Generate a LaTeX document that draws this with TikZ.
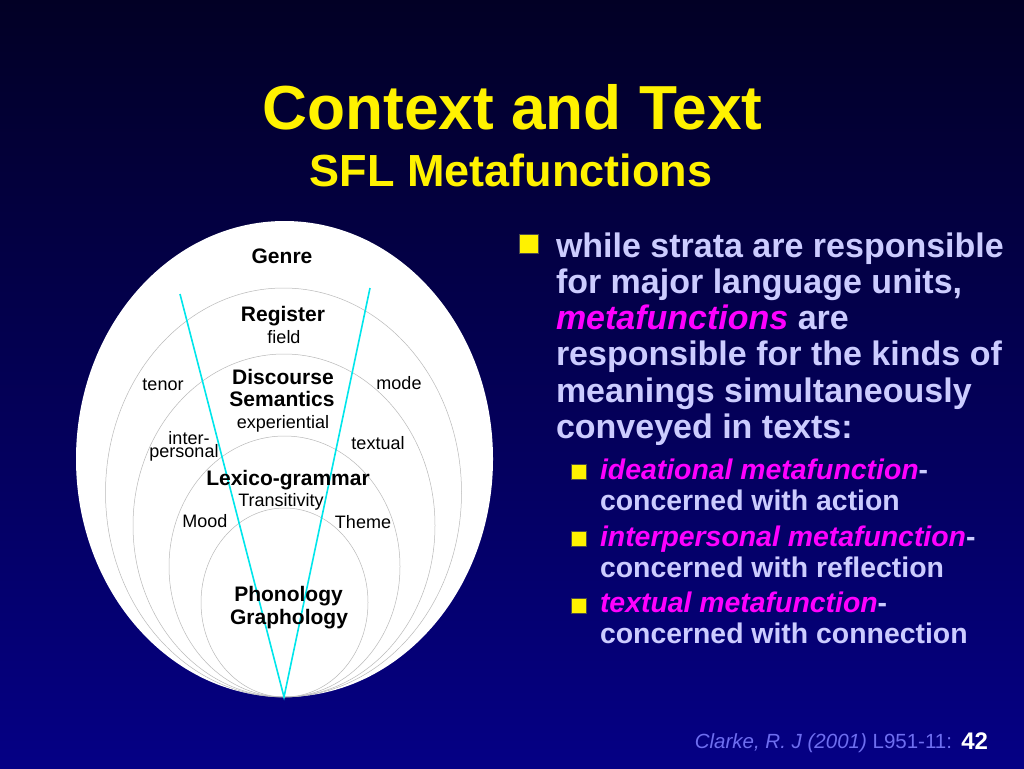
\documentclass[tikz,border=0pt]{standalone}
\usepackage{fontspec}
\setmainfont{Liberation Sans}
\usepackage{tikz}
\usetikzlibrary{positioning}
\definecolor{bgtop}{RGB}{2,0,37}
\definecolor{bgbot}{RGB}{5,0,133}
\definecolor{lav}{RGB}{204,204,255}
\definecolor{mfmag}{RGB}{255,0,255}
\definecolor{refblue}{RGB}{110,110,240}
\definecolor{wedgecyan}{RGB}{0,230,235}
\newcommand{\mfun}[1]{\textcolor{mfmag}{\itshape #1}}

\begin{document}
\begin{tikzpicture}[x=1pt, y=-1pt,
  every node/.style={inner sep=0pt, outer sep=0pt},
  ring/.style={draw=gray!55, line width=0.5pt},
  wedge/.style={draw=wedgecyan, line width=1.6pt},
  stratum/.style={anchor=base, font=\fontsize{21}{21}\selectfont\bfseries},
  fn/.style={anchor=base, font=\fontsize{18}{18}\selectfont},
  bulbox/.style={fill=yellow, draw=black!70, line width=0.4pt},
  maintxt/.style={anchor=base west, align=left, text=lav, font=\fontsize{34}{36.3}\selectfont\bfseries},
  subtxt/.style={anchor=base west, align=left, text=lav, font=\fontsize{28.4}{31}\selectfont\bfseries}]
\useasboundingbox (0,0) rectangle (1024,768);
\shade[top color=bgtop, bottom color=bgbot] (0,0) rectangle (1024,768);

% title
\node[anchor=base, text=yellow, font=\fontsize{62.2}{62}\selectfont\bfseries] (title) at (512.5,129.5) {Context and Text};
\node[anchor=base, text=yellow, font=\fontsize{45}{45}\selectfont\bfseries] (subtitle) at (511,186.5) {SFL Metafunctions};

% strata
\fill[white] (284.5,459) ellipse [x radius=208.5, y radius=238];
\draw[ring] (283.5,492.5) ellipse [x radius=178, y radius=204.5];
\draw[ring] (284,525.5) ellipse [x radius=151, y radius=171.5];
\draw[ring] (284.5,566.5) ellipse [x radius=115.5, y radius=130.5];
\draw[ring] (284.5,602.5) ellipse [x radius=83.5, y radius=94.5];

\coordinate (apex) at (284,697);
\coordinate (wl) at (180,294);
\coordinate (wr) at (370,288);
\draw[wedge] (wl) -- (apex) -- (wr);

\node[stratum] (genre) at (282,263.5) {Genre};
\node[stratum] (reg) at (283,321) {Register};
\node[fn] (field) at (284,343) {field};
\node[stratum] (disc) at (283,384.5) {Discourse};
\node[stratum] (sem) at (282,406.5) {Semantics};
\node[fn] (exp) at (283,428.5) {experiential};
\node[fn] (tenor) at (163,390.5) {tenor};
\node[fn] (mode) at (399,389) {mode};
\node[fn] (inter) at (189,444.5) {inter-};
\node[fn] (pers) at (184,457.5) {personal};
\node[fn] (textual) at (378,449) {textual};
\node[stratum] (lexg) at (288,485) {Lexico-grammar};
\node[fn] (trans) at (281,506.5) {Transitivity};
\node[fn] (mood) at (205,527.5) {Mood};
\node[fn] (theme) at (363,528) {Theme};
\node[stratum] (phon) at (288.5,601.5) {Phonology};
\node[stratum] (graph) at (289,624.5) {Graphology};

% bullets
\node[bulbox, minimum size=19pt] (b0) at (528.5,243.5) {};
\node[maintxt] (p0) at (556,438.5) {while strata are responsible\\for major language units,\\\mfun{metafunctions} are\\responsible for the kinds of\\meanings simultaneously\\conveyed in texts:};
\node[bulbox, minimum size=15pt] (b1) at (579,472) {};
\node[subtxt] (p1) at (600,510.5) {\mfun{ideational metafunction}-\\concerned with action};
\node[bulbox, minimum size=15pt] (b2) at (579,539) {};
\node[subtxt] (p2) at (600,577) {\mfun{interpersonal metafunction}-\\concerned with reflection};
\node[bulbox, minimum size=15pt] (b3) at (579,606) {};
\node[subtxt] (p3) at (600,643.5) {\mfun{textual metafunction}-\\concerned with connection};

% footer
\node[anchor=base east, text=white, font=\fontsize{24}{24}\selectfont\bfseries] (page) at (988,749) {42};
\node[anchor=base east, text=refblue, font=\fontsize{20.5}{20.5}\selectfont] (cite) at (952,748) {\textit{Clarke, R. J (2001)} L951-11:};
\end{tikzpicture}
\end{document}
